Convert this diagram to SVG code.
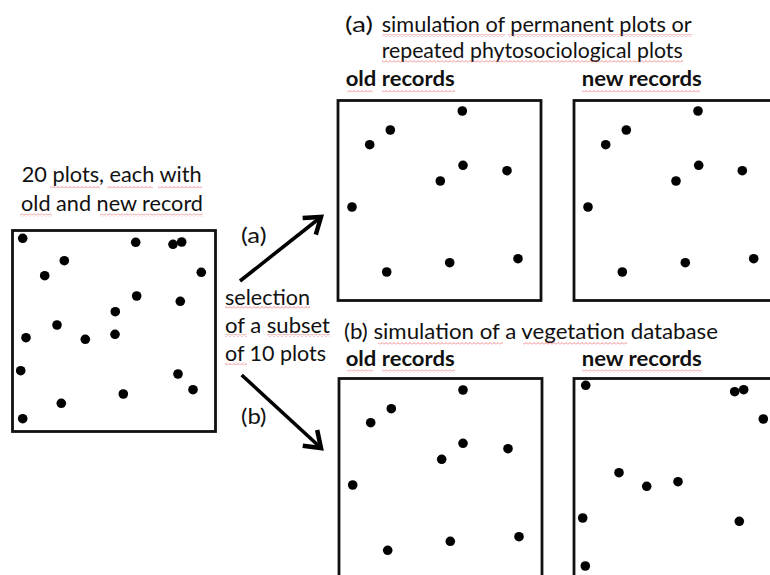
<svg xmlns="http://www.w3.org/2000/svg" width="770" height="575" viewBox="0 0 770 575">
<style>
  text { font-family: Lato, "Liberation Sans", Arial, sans-serif; font-size: 21px; fill: #111; }
  .b { font-weight: bold; }
  .box { fill: #fff; stroke: #111; stroke-width: 2.8; }
  .dot { fill: #000; }
  .arrow { fill: none; stroke: #000; stroke-width: 3.6; marker-end: url(#head); }
  .sq { fill: url(#squig); }
</style>
<defs>
  <pattern id="squig" width="4" height="3" patternUnits="userSpaceOnUse">
    <path d="M0 2.5 L2 0.5 L4 2.5" fill="none" stroke="#e8585a" stroke-width="0.8" opacity="0.85"/>
  </pattern>
  <marker id="head" markerUnits="userSpaceOnUse" markerWidth="30" markerHeight="30" refX="0" refY="0" viewBox="-16 -12 20 24" orient="auto" overflow="visible">
    <path d="M-12,-8.5 L0,0 L-12,8.5" fill="none" stroke="#000" stroke-width="3.6" stroke-linejoin="miter"/>
  </marker>
</defs>
<rect width="770" height="575" fill="#fff"/>

<g id="label-all">
  <text x="21.7" y="182" textLength="180" lengthAdjust="spacingAndGlyphs">20 plots, each with</text>
  <text x="21" y="210.5" textLength="182" lengthAdjust="spacingAndGlyphs">old and new record</text>
  <rect class="sq" x="50" y="185.5" width="50" height="3"/>
  <rect class="sq" x="107" y="185.5" width="46" height="3"/>
  <rect class="sq" x="158" y="185.5" width="44" height="3"/>
  <rect class="sq" x="20" y="213.5" width="32" height="3"/>
  <rect class="sq" x="100" y="213.5" width="103" height="3"/>
</g>

<g id="all-plots">
  <rect class="box" x="12.5" y="230.5" width="203" height="201"/>
  <circle class="dot" cx="22.7" cy="238.3" r="4.8"/>
  <circle class="dot" cx="135.7" cy="242.3" r="4.8"/>
  <circle class="dot" cx="173" cy="244.3" r="4.8"/>
  <circle class="dot" cx="181.7" cy="242" r="4.8"/>
  <circle class="dot" cx="64.3" cy="260.7" r="4.8"/>
  <circle class="dot" cx="44.7" cy="275.7" r="4.8"/>
  <circle class="dot" cx="201.3" cy="272.3" r="4.8"/>
  <circle class="dot" cx="136.7" cy="296" r="4.8"/>
  <circle class="dot" cx="180.3" cy="301.3" r="4.8"/>
  <circle class="dot" cx="115.3" cy="311.7" r="4.8"/>
  <circle class="dot" cx="57" cy="325" r="4.8"/>
  <circle class="dot" cx="26" cy="337.7" r="4.8"/>
  <circle class="dot" cx="85.3" cy="339.3" r="4.8"/>
  <circle class="dot" cx="115" cy="334.3" r="4.8"/>
  <circle class="dot" cx="20.7" cy="370.7" r="4.8"/>
  <circle class="dot" cx="178" cy="374" r="4.8"/>
  <circle class="dot" cx="193" cy="389.7" r="4.8"/>
  <circle class="dot" cx="123.3" cy="394" r="4.8"/>
  <circle class="dot" cx="61.3" cy="403.3" r="4.8"/>
  <circle class="dot" cx="22.7" cy="418.7" r="4.8"/>
</g>

<g id="label-selection">
  <text x="225" y="305" textLength="85" lengthAdjust="spacingAndGlyphs">selection</text>
  <text x="225" y="333" textLength="105" lengthAdjust="spacingAndGlyphs">of a subset</text>
  <text x="225" y="361" textLength="101" lengthAdjust="spacingAndGlyphs">of 10 plots</text>
  <rect class="sq" x="225" y="306" width="85" height="3"/>
  <rect class="sq" x="225" y="334" width="22" height="3"/>
  <rect class="sq" x="267" y="334" width="63" height="3"/>
  <rect class="sq" x="225" y="362" width="22" height="3"/>
</g>

<g id="connectors">
  <path class="arrow" d="M240,281 L321,217"/>
  <path class="arrow" d="M241.7,375 L321,448"/>
  <text x="241" y="243" textLength="25.5" lengthAdjust="spacingAndGlyphs">(a)</text>
  <text x="241" y="424" textLength="25.5" lengthAdjust="spacingAndGlyphs">(b)</text>
</g>

<g id="label-a">
  <text x="345" y="32" textLength="28" lengthAdjust="spacingAndGlyphs">(a)</text>
  <text x="381.7" y="32" textLength="310" lengthAdjust="spacingAndGlyphs">simulation of permanent plots or</text>
  <text x="381.7" y="57.5" textLength="301" lengthAdjust="spacingAndGlyphs">repeated phytosociological plots</text>
  <rect class="sq" x="382" y="34" width="123" height="3"/>
  <rect class="sq" x="508" y="34" width="184" height="3"/>
  <rect class="sq" x="382" y="60" width="301" height="3"/>
</g>

<g id="a-old">
  <text class="b" x="345.7" y="86" textLength="109" lengthAdjust="spacingAndGlyphs">old records</text>
  <rect class="sq" x="347" y="89.5" width="26" height="3"/>
  <rect class="sq" x="382" y="89.5" width="73" height="3"/>
  <rect class="box" x="338" y="100.5" width="203" height="200"/>
  <circle class="dot" cx="462.3" cy="111" r="4.8"/>
  <circle class="dot" cx="390.3" cy="130" r="4.8"/>
  <circle class="dot" cx="369.7" cy="144.7" r="4.8"/>
  <circle class="dot" cx="463" cy="165.3" r="4.8"/>
  <circle class="dot" cx="440.3" cy="181" r="4.8"/>
  <circle class="dot" cx="507" cy="170.7" r="4.8"/>
  <circle class="dot" cx="352" cy="207" r="4.8"/>
  <circle class="dot" cx="518" cy="258.7" r="4.8"/>
  <circle class="dot" cx="449.7" cy="262.7" r="4.8"/>
  <circle class="dot" cx="386.7" cy="272" r="4.8"/>
</g>

<g id="a-new">
  <text class="b" x="581.7" y="86" textLength="120" lengthAdjust="spacingAndGlyphs">new records</text>
  <rect class="sq" x="582" y="89.5" width="118" height="3"/>
  <rect class="box" x="574" y="100.5" width="210" height="200"/>
  <circle class="dot" cx="698" cy="111" r="4.8"/>
  <circle class="dot" cx="626.3" cy="130" r="4.8"/>
  <circle class="dot" cx="605.7" cy="144.7" r="4.8"/>
  <circle class="dot" cx="698.7" cy="165.3" r="4.8"/>
  <circle class="dot" cx="676" cy="181" r="4.8"/>
  <circle class="dot" cx="742.3" cy="170.7" r="4.8"/>
  <circle class="dot" cx="588" cy="207" r="4.8"/>
  <circle class="dot" cx="753.7" cy="258.7" r="4.8"/>
  <circle class="dot" cx="685.3" cy="262.7" r="4.8"/>
  <circle class="dot" cx="622.3" cy="272" r="4.8"/>
</g>

<g id="label-b">
  <text x="344" y="339" textLength="374" lengthAdjust="spacingAndGlyphs">(b) simulation of a vegetation database</text>
  <rect class="sq" x="378" y="342" width="125" height="3"/>
  <rect class="sq" x="523" y="342" width="104" height="3"/>
</g>

<g id="b-old">
  <text class="b" x="345.7" y="366" textLength="109" lengthAdjust="spacingAndGlyphs">old records</text>
  <rect class="sq" x="347" y="369.5" width="26" height="3"/>
  <rect class="sq" x="382" y="369.5" width="73" height="3"/>
  <rect class="box" x="339" y="378.5" width="203" height="210"/>
  <circle class="dot" cx="463" cy="390" r="4.8"/>
  <circle class="dot" cx="391.3" cy="408.7" r="4.8"/>
  <circle class="dot" cx="370.7" cy="422.7" r="4.8"/>
  <circle class="dot" cx="463" cy="443.3" r="4.8"/>
  <circle class="dot" cx="441.7" cy="459.3" r="4.8"/>
  <circle class="dot" cx="508" cy="448.7" r="4.8"/>
  <circle class="dot" cx="352.7" cy="485" r="4.8"/>
  <circle class="dot" cx="519" cy="536.7" r="4.8"/>
  <circle class="dot" cx="450.3" cy="541.3" r="4.8"/>
  <circle class="dot" cx="387.7" cy="550.3" r="4.8"/>
</g>

<g id="b-new">
  <text class="b" x="581.7" y="366" textLength="120" lengthAdjust="spacingAndGlyphs">new records</text>
  <rect class="sq" x="582" y="369.5" width="120" height="3"/>
  <rect class="box" x="574" y="378.5" width="210" height="210"/>
  <circle class="dot" cx="585.7" cy="385.3" r="4.8"/>
  <circle class="dot" cx="734.7" cy="391.7" r="4.8"/>
  <circle class="dot" cx="743.7" cy="389.7" r="4.8"/>
  <circle class="dot" cx="763.3" cy="419" r="4.8"/>
  <circle class="dot" cx="619" cy="472.7" r="4.8"/>
  <circle class="dot" cx="646.7" cy="486.3" r="4.8"/>
  <circle class="dot" cx="678" cy="481.7" r="4.8"/>
  <circle class="dot" cx="582.7" cy="518" r="4.8"/>
  <circle class="dot" cx="739.3" cy="521.3" r="4.8"/>
  <circle class="dot" cx="585.3" cy="566" r="4.8"/>
</g>
</svg>
